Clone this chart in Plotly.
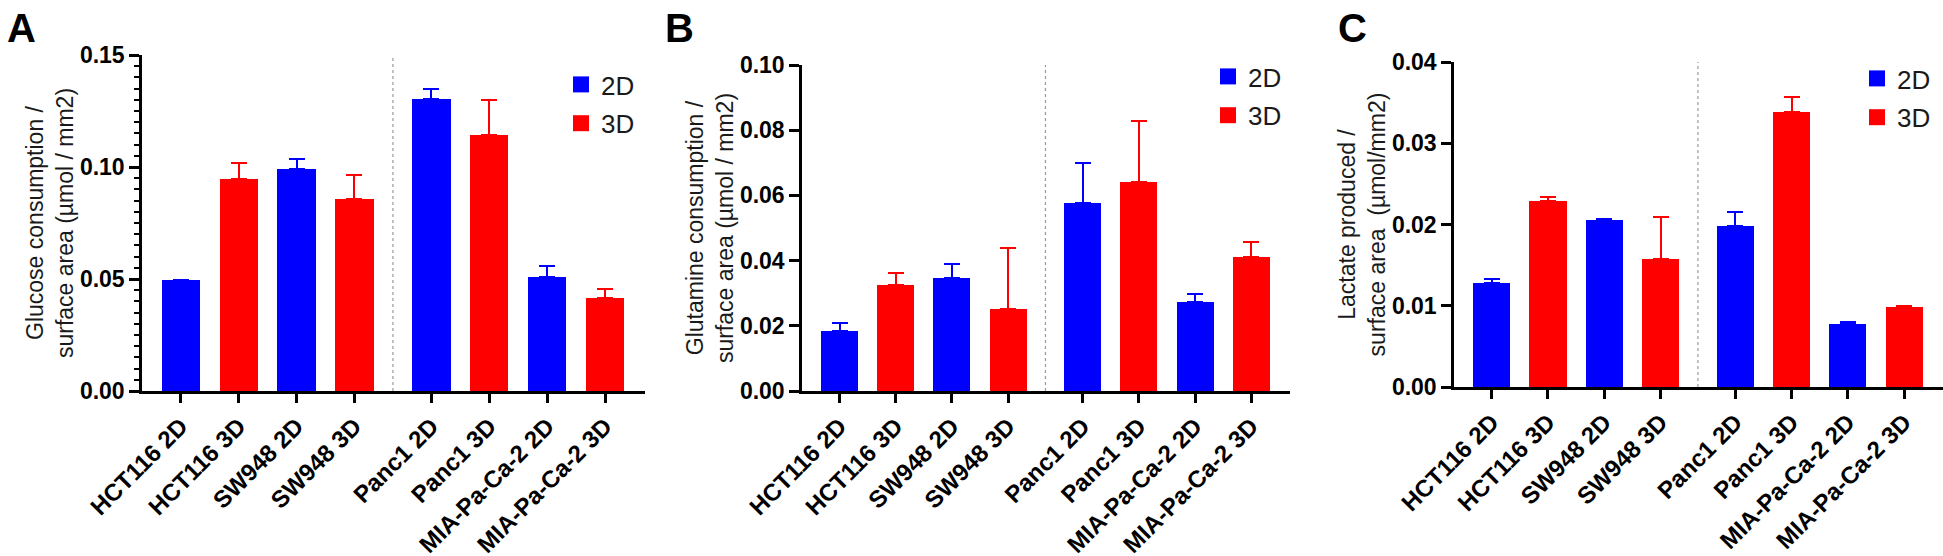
import plotly.graph_objects as go

categories = ["HCT116 2D", "HCT116 3D", "SW948 2D", "SW948 3D",
              "Panc1 2D", "Panc1 3D", "MIA-Pa-Ca-2 2D", "MIA-Pa-Ca-2 3D"]
culture = ["2D", "3D", "2D", "3D", "2D", "3D", "2D", "3D"]

glucose = [0.0496, 0.0946, 0.0993, 0.0855, 0.1305, 0.1144, 0.0507, 0.0415]
glucose_err = [0.0, 0.0074, 0.0041, 0.0109, 0.0045, 0.0156, 0.0053, 0.0040]
glutamine = [0.0184, 0.0326, 0.0348, 0.0252, 0.0576, 0.0640, 0.0272, 0.0412]
glutamine_err = [0.0025, 0.0035, 0.0041, 0.0186, 0.0122, 0.0187, 0.0026, 0.0044]
lactate = [0.0128, 0.0229, 0.0205, 0.0157, 0.0198, 0.0339, 0.0077, 0.0099]
lactate_err = [0.0005, 0.0005, 0.0002, 0.0052, 0.0018, 0.0018, 0.0003, 0.0001]

y_titles = ["Glucose consumption /<br>surface area (µmol / mm2)",
            "Glutamine consumption /<br>surface area (µmol / mm2)",
            "Lactate produced /<br>surface area \u00a0(µmol/mm2)"]
y_ranges = [[0, 0.15], [0, 0.10], [0, 0.04]]
y_dticks = [0.05, 0.02, 0.01]
panel_letters = ["A", "B", "C"]

colors = {"2D": "#0000FF", "3D": "#FF0000"}
FONT = "Arial, Liberation Sans, sans-serif"
W, H = 1943, 556

# group gap between colon and pancreatic lines
xpos = [i + (0.33 if i >= 4 else 0.0) for i in range(len(categories))]
sep_x = (xpos[3] + xpos[4]) / 2

# pixel layout of each panel (x0, x1, ytop, ybottom)
boxes = [(142, 645, 55, 391), (802, 1290, 65, 391), (1454, 1943, 62, 387)]
legend_pos = [(561, 61), (1208, 53), (1857, 55)]
letter_x = [5, 663, 1336]

fig = go.Figure()
datasets = [(glucose, glucose_err), (glutamine, glutamine_err), (lactate, lactate_err)]

for p, (vals, errs) in enumerate(datasets):
    xa = "x" if p == 0 else f"x{p+1}"
    ya = "y" if p == 0 else f"y{p+1}"
    leg = "legend" if p == 0 else f"legend{p+1}"
    for c in ["2D", "3D"]:
        idx = [i for i, k in enumerate(culture) if k == c]
        fig.add_trace(go.Bar(
            x=[xpos[i] for i in idx], y=[vals[i] for i in idx],
            width=0.66, marker=dict(color=colors[c], line=dict(width=0)),
            error_y=dict(type="data", symmetric=False,
                         array=[errs[i] for i in idx],
                         arrayminus=[0] * len(idx),
                         color=colors[c], thickness=2, width=8),
            xaxis=xa, yaxis=ya, showlegend=False, name=c))
    for c in ["2D", "3D"]:
        fig.add_trace(go.Scatter(
            x=[None], y=[None], mode="markers", name=c,
            marker=dict(symbol="square", size=20, color=colors[c]),
            xaxis=xa, yaxis=ya, legend=leg, legendgroup=c, showlegend=True))

layout = dict(
    width=W, height=H, margin=dict(l=0, r=0, t=0, b=0, autoexpand=False),
    paper_bgcolor="white", plot_bgcolor="white",
    font=dict(family=FONT, color="black"),
    bargap=0, shapes=[], annotations=[],
)

for p in range(3):
    x0, x1, yt, yb = boxes[p]
    sx = "" if p == 0 else str(p + 1)
    xaxis = dict(
        domain=[x0 / W, min(x1 / W, 1.0)], anchor="y" + sx, automargin=False,
        range=[-0.67, 8.02], tickvals=xpos, ticktext=categories,
        tickangle=-45, showline=True, linecolor="black", linewidth=2.5,
        ticks="outside", ticklen=9, tickwidth=2.5, tickcolor="black",
        tickfont=dict(family=FONT, size=24, color="black", weight="bold"),
        showgrid=False, zeroline=False, fixedrange=True)
    yaxis = dict(
        domain=[(H - yb) / H, (H - yt) / H], anchor="x" + sx, automargin=False,
        range=y_ranges[p], dtick=y_dticks[p], tick0=0, tickformat=".2f",
        showline=True, linecolor="black", linewidth=2.5,
        ticks="outside", ticklen=10, tickwidth=2.5, tickcolor="black",
        tickfont=dict(family=FONT, size=23, color="black", weight="bold"),
        showgrid=False, zeroline=False,
        title=dict(text=y_titles[p], font=dict(family=FONT, size=23, color="#1a1a1a"),
                   standoff=0))
    if p == 0:
        yaxis["minor"] = dict(dtick=0.005, ticks="outside", ticklen=5,
                              tickwidth=2, tickcolor="black")
    layout["xaxis" + sx] = xaxis
    layout["yaxis" + sx] = yaxis
    layout["shapes"].append(dict(
        type="line", xref="x" + sx, yref="y" + sx + " domain",
        x0=sep_x, x1=sep_x, y0=0, y1=1,
        line=dict(color="#999999", width=1.2, dash="dot")))
    lx, ly = legend_pos[p]
    layout["legend" + ("" if p == 0 else str(p + 1))] = dict(
        x=lx / W, y=(H - ly) / H, xanchor="left", yanchor="top",
        bgcolor="rgba(0,0,0,0)", tracegroupgap=2,
        font=dict(family=FONT, size=26, color="#1a1a1a"),
        itemsizing="trace")
    layout["annotations"].append(dict(
        text="<b>" + panel_letters[p] + "</b>", xref="paper", yref="paper",
        x=letter_x[p] / W, y=1 - 4 / H, xanchor="left", yanchor="top",
        showarrow=False, font=dict(family=FONT, size=40, color="black")))

fig.update_layout(**layout)
fig.write_html("out.html", config={"displayModeBar": False},
               post_script="document.body.style.margin='0px';")
